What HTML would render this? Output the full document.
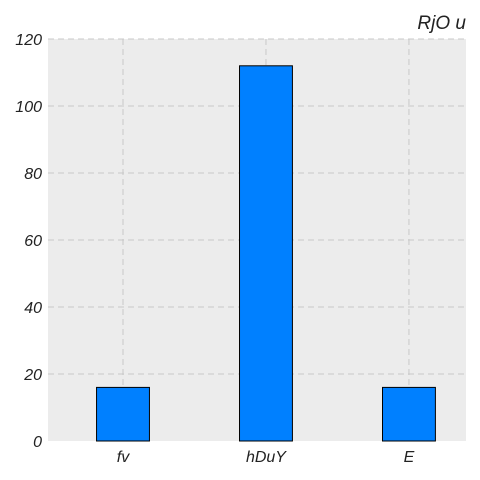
<!DOCTYPE html>
<html><head><meta charset="utf-8"><style>
html,body{margin:0;padding:0;background:#fff;width:480px;height:480px;overflow:hidden}
svg text{font-family:"Liberation Sans",sans-serif;font-style:italic;fill:#222}
</style></head><body>
<svg id="chart" width="480" height="480" xmlns="http://www.w3.org/2000/svg">
<rect x="48" y="39" width="418" height="402" fill="#ececec"/>
<g id="grid"></g>
<g id="bars"></g>
<g id="yticks"></g>
<g id="xticks"></g>
<text x="466" y="29" text-anchor="end" font-size="19">RjO u</text>
</svg>
<script>
const categories = ["fv", "hDuY", "E"];
const values = [16, 112, 16];
const yTicks = [0, 20, 40, 60, 80, 100, 120];
const NS = "http://www.w3.org/2000/svg";
const L = 48, R = 466, T = 39, B = 441;
const xMin = -0.5245, xMax = 2.399, yMin = 0, yMax = 120;
const xs = v => L + (v - xMin) / (xMax - xMin) * (R - L);
const ys = v => B - (v - yMin) / (yMax - yMin) * (B - T);
const barW = 0.37;
function mk(tag, attrs, parent) {
  const e = document.createElementNS(NS, tag);
  for (const k in attrs) e.setAttribute(k, attrs[k]);
  parent.appendChild(e);
  return e;
}
const grid = document.getElementById("grid");
const bars = document.getElementById("bars");
const yt = document.getElementById("yticks");
const xt = document.getElementById("xticks");
yTicks.forEach(t => {
  const y = ys(t);
  if (t > yMin) {
    const g = mk("line", {x1: L, x2: R, y1: y, y2: y, stroke: "#c8c8c8", "stroke-dasharray": "6,4", "stroke-width": 1}, grid);
    
    
  }
  const lab = mk("text", {x: L - 6, y: y + 6, "text-anchor": "end", "font-size": 16}, yt);
  lab.textContent = t;
  
  
});
categories.forEach((c, i) => {
  const x = xs(i);
  const g = mk("line", {x1: x, x2: x, y1: T, y2: B, stroke: "#c8c8c8", "stroke-dasharray": "6,4", "stroke-width": 1}, grid);
  
  
  const x0 = xs(i - barW / 2), x1 = xs(i + barW / 2);
  const b = mk("rect", {x: x0, y: ys(values[i]), width: x1 - x0, height: ys(0) - ys(values[i]), fill: "#0080ff", stroke: "#000", "stroke-width": 1}, bars);
  
  
  const lab = mk("text", {x: x, y: B + 21, "text-anchor": "middle", "font-size": 16}, xt);
  lab.textContent = c;
  
  
});
</script>
</body></html>
